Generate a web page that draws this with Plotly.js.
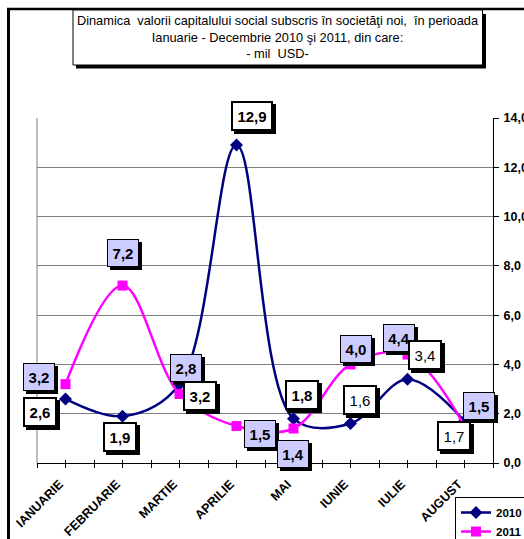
<!DOCTYPE html>
<html><head><meta charset="utf-8">
<script src="https://cdn.plot.ly/plotly-3.0.1.min.js"></script>
<style>html,body{margin:0;padding:0;background:#fff;overflow:hidden}#chart{width:524px;height:539px}</style>
</head><body><div id="chart"></div>
<script>
// ---- data ----
const months = ['IANUARIE','FEBRUARIE','MARTIE','APRILIE','MAI','IUNIE','IULIE','AUGUST'];
const values2010 = [2.6, 1.9, 3.2, 12.9, 1.8, 1.6, 3.4, 1.7];
const values2011 = [3.2, 7.2, 2.8, 1.5, 1.4, 4.0, 4.4, 1.5];
const seriesNames = ['2010', '2011'];
const yTickValues = [0, 2, 4, 6, 8, 10, 12, 14];
const titleLines = [
  'Dinamica  valorii capitalului social subscris în societăţi noi,  în perioada',
  'Ianuarie - Decembrie 2010 şi 2011, din care:',
  '- mil  USD-'
];

// ---- label placement (pixel offsets from each point) ----
const off2010 = [[-25.5,-13],[-2.5,-21],[20.5,-12],[15.5,29],[8.5,24],[9.5,24],[17,24],[-10.5,-15]];
const bold2010 = [true,true,true,true,true,false,false,false];
const off2011 = [[-26.5,7],[0.5,33],[6.5,26],[23.5,-8],[-0.5,-25.5],[5.5,15],[-8.5,17],[14.5,20]];

// ---- geometry ----
const W = 524, H = 539;
const L = 37, R = 493, T = 118, B = 463;
const pw = R - L, ph = B - T;
const px = v => (v - L) / pw;
const py = v => (B - v) / ph;

const fmt = v => v.toFixed(1).replace('.', ',');
const FONT = 'Arial, Liberation Sans, sans-serif';

const traces = [
  {x: months, y: values2010, name: seriesNames[0], type: 'scatter', mode: 'lines+markers',
   line: {color: '#000080', width: 2.5, shape: 'spline', smoothing: 1},
   marker: {symbol: 'diamond', size: 10, color: '#000080'}},
  {x: months, y: values2011, name: seriesNames[1], type: 'scatter', mode: 'lines+markers',
   line: {color: '#FF00FF', width: 2.5, shape: 'spline', smoothing: 1},
   marker: {symbol: 'square', size: 10, color: '#FF00FF'}},
  // overlay axes for boundary tick marks
  {x: [-0.5, 7.5], y: [0, 0], xaxis: 'x2', mode: 'none', showlegend: false, hoverinfo: 'skip'},
  {x: [-0.5, 7.5], y: [0, 0], xaxis: 'x3', mode: 'none', showlegend: false, hoverinfo: 'skip'}
];

const annotations = [];
function addLabel(xcat, val, off, opts) {
  const txt = fmt(val);
  const w = txt.length > 3 ? 30 : 22;
  const base = {
    x: xcat, y: val, xref: 'x', yref: 'y', showarrow: false,
    borderpad: 4, xanchor: 'center', yanchor: 'middle', width: w, height: 18,
    borderwidth: opts.bw, bordercolor: '#000'
  };
  // drop shadow (no text)
  annotations.push(Object.assign({}, base, {
    text: ' ', xshift: off[0] + 3, yshift: off[1] - 3, bgcolor: '#000',
    font: {family: FONT, size: 15, color: '#000'}
  }));
  annotations.push(Object.assign({}, base, {
    text: txt, xshift: off[0], yshift: off[1], bgcolor: opts.bg,
    font: {family: FONT, size: 15, color: '#000', weight: opts.bold ? 'bold' : 'normal'}
  }));
}
months.forEach((m, i) => addLabel(m, values2011[i], off2011[i], {bg: '#CCCCFF', bw: 1, bold: true}));
months.forEach((m, i) => addLabel(m, values2010[i], off2010[i], {bg: '#FFFFFF', bw: 2, bold: bold2010[i]}));

const shapes = [
  // outer chart border (left & top)
  {type: 'line', xref: 'paper', yref: 'paper', x0: px(8.5), x1: px(8.5), y0: py(9), y1: py(545), line: {color: '#000', width: 3}},
  {type: 'line', xref: 'paper', yref: 'paper', x0: px(7), x1: px(530), y0: py(9), y1: py(9), line: {color: '#000', width: 2.5}},
  // plot area left border
  {type: 'line', xref: 'paper', yref: 'paper', x0: 0, x1: 0, y0: 0, y1: 1, line: {color: '#808080', width: 1}},
  // title box shadow and box
  {type: 'rect', xref: 'paper', yref: 'paper', x0: px(76), x1: px(486), y0: py(14), y1: py(68.5), fillcolor: '#000', line: {width: 0}},
  {type: 'rect', xref: 'paper', yref: 'paper', x0: px(73), x1: px(482.5), y0: py(10), y1: py(65), fillcolor: '#fff', line: {color: '#000', width: 1}}
];

const layout = {
  width: W, height: H,
  margin: {l: L, r: W - R, t: T, b: H - B, pad: 0, autoexpand: false},
  paper_bgcolor: '#fff', plot_bgcolor: '#fff',
  separators: ', ',
  font: {family: FONT, color: '#000'},
  title: {
    text: titleLines.join('<br>'),
    font: {family: FONT, size: 12.8, color: '#000'},
    xref: 'paper', x: px(277.5), xanchor: 'center',
    yref: 'container', y: 1 - 25 / H, yanchor: 'top'
  },
  xaxis: {
    type: 'category', range: [-0.5, 7.5], fixedrange: true, automargin: false,
    showgrid: false, zeroline: false,
    showline: true, linecolor: '#000', linewidth: 1,
    ticks: '', tickangle: -45, ticklabelstandoff: 8, ticklabelshift: -6,
    tickfont: {family: FONT, size: 12.5, weight: 'bold', color: '#000'}
  },
  xaxis2: {
    overlaying: 'x', range: [-0.5, 7.5], tick0: -0.5, dtick: 0.5,
    showgrid: false, zeroline: false, showline: false, showticklabels: false,
    ticks: 'outside', ticklen: 4, tickcolor: '#000', fixedrange: true
  },
  xaxis3: {
    overlaying: 'x', range: [-0.5, 7.5], tick0: -0.5, dtick: 0.5,
    showgrid: false, zeroline: false, showline: false, showticklabels: false,
    ticks: 'inside', ticklen: 3, tickcolor: '#000', fixedrange: true
  },
  yaxis: {
    side: 'right', range: [0, 14], tickvals: yTickValues, tickformat: '.1f', automargin: false,
    showgrid: true, gridcolor: '#7f7f7f', gridwidth: 1, zeroline: false,
    showline: true, linecolor: '#000', linewidth: 1,
    ticks: 'outside', ticklen: 5, tickcolor: '#000', ticklabelstandoff: 2,
    tickfont: {family: FONT, size: 12.5, weight: 'bold', color: '#000'},
    fixedrange: true
  },
  showlegend: true,
  legend: {
    x: px(455), y: py(497), xanchor: 'left', yanchor: 'top',
    bgcolor: '#fff', bordercolor: '#000', borderwidth: 1,
    font: {family: FONT, size: 11.5, weight: 'bold', color: '#000'},
    tracegroupgap: 0
  },
  shapes: shapes,
  annotations: annotations,
  hovermode: false
};

Plotly.newPlot('chart', traces, layout, {displayModeBar: false, staticPlot: true});
</script>
</body></html>
